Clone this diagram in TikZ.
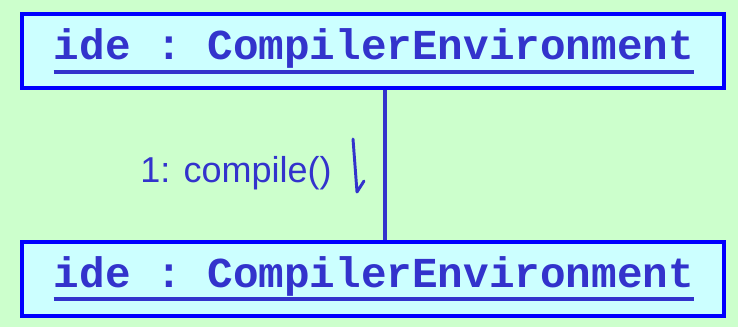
\documentclass[tikz,border=0pt]{standalone}
\usepackage{fontspec}
\setmainfont{Liberation Sans}
\setmonofont{Liberation Mono}
\definecolor{bggreen}{HTML}{CCFFCC}
\definecolor{objfill}{HTML}{CCFFFF}
\definecolor{objedge}{HTML}{0000FF}
\definecolor{ink}{HTML}{3333CC}
\tikzset{
	objbox/.style={draw=objedge, fill=objfill, line width=3pt, minimum width=526pt, minimum height=56pt, inner sep=0pt},
	objname/.style={text=ink, font=\ttfamily\bfseries\fontsize{32}{36}\selectfont, inner sep=0pt, anchor=base},
	uline/.style={draw=ink, line width=3pt},
	link/.style={draw=ink, line width=2.5pt},
	msg/.style={text=ink, font=\fontsize{27}{32}\selectfont, inner sep=0pt, anchor=base west},
}
\begin{document}
\begin{tikzpicture}[x=0.75pt, y=-0.75pt]
			% Background
			\fill[bggreen] (0,0) rectangle (738,327);
			\useasboundingbox (0,0) rectangle (738,327);
			
			\coordinate (lx) at (385, 0);
			
			% Objects
			\node[objbox] (ide1) at (373, 51) {};
			\node[objbox] (ide2) at (373, 279) {};
			
			% Link
			\draw[link] (ide1.south -| lx) -- (ide2.north -| lx);
			
			% Names
			\node[objname] (name1) at (374, 60) {ide : CompilerEnvironment};
			\node[objname] (name2) at (374, 287) {ide : CompilerEnvironment};
			\draw[uline] ([yshift=-9pt]name1.base west) -- ([yshift=-9pt]name1.base east);
			\draw[uline] ([yshift=-9pt]name2.base west) -- ([yshift=-9pt]name2.base east);
			
			% Message
			\node[msg] (msg1) at (140, 183) {1: compile()};
			\coordinate (tail) at (353, 139);
			\coordinate (tip) at (357, 192);
			\draw[link, line width=2.2pt, line join=round, line cap=round] (tail) -- (tip) -- ++(7, -11);
		\end{tikzpicture}
\end{document}
